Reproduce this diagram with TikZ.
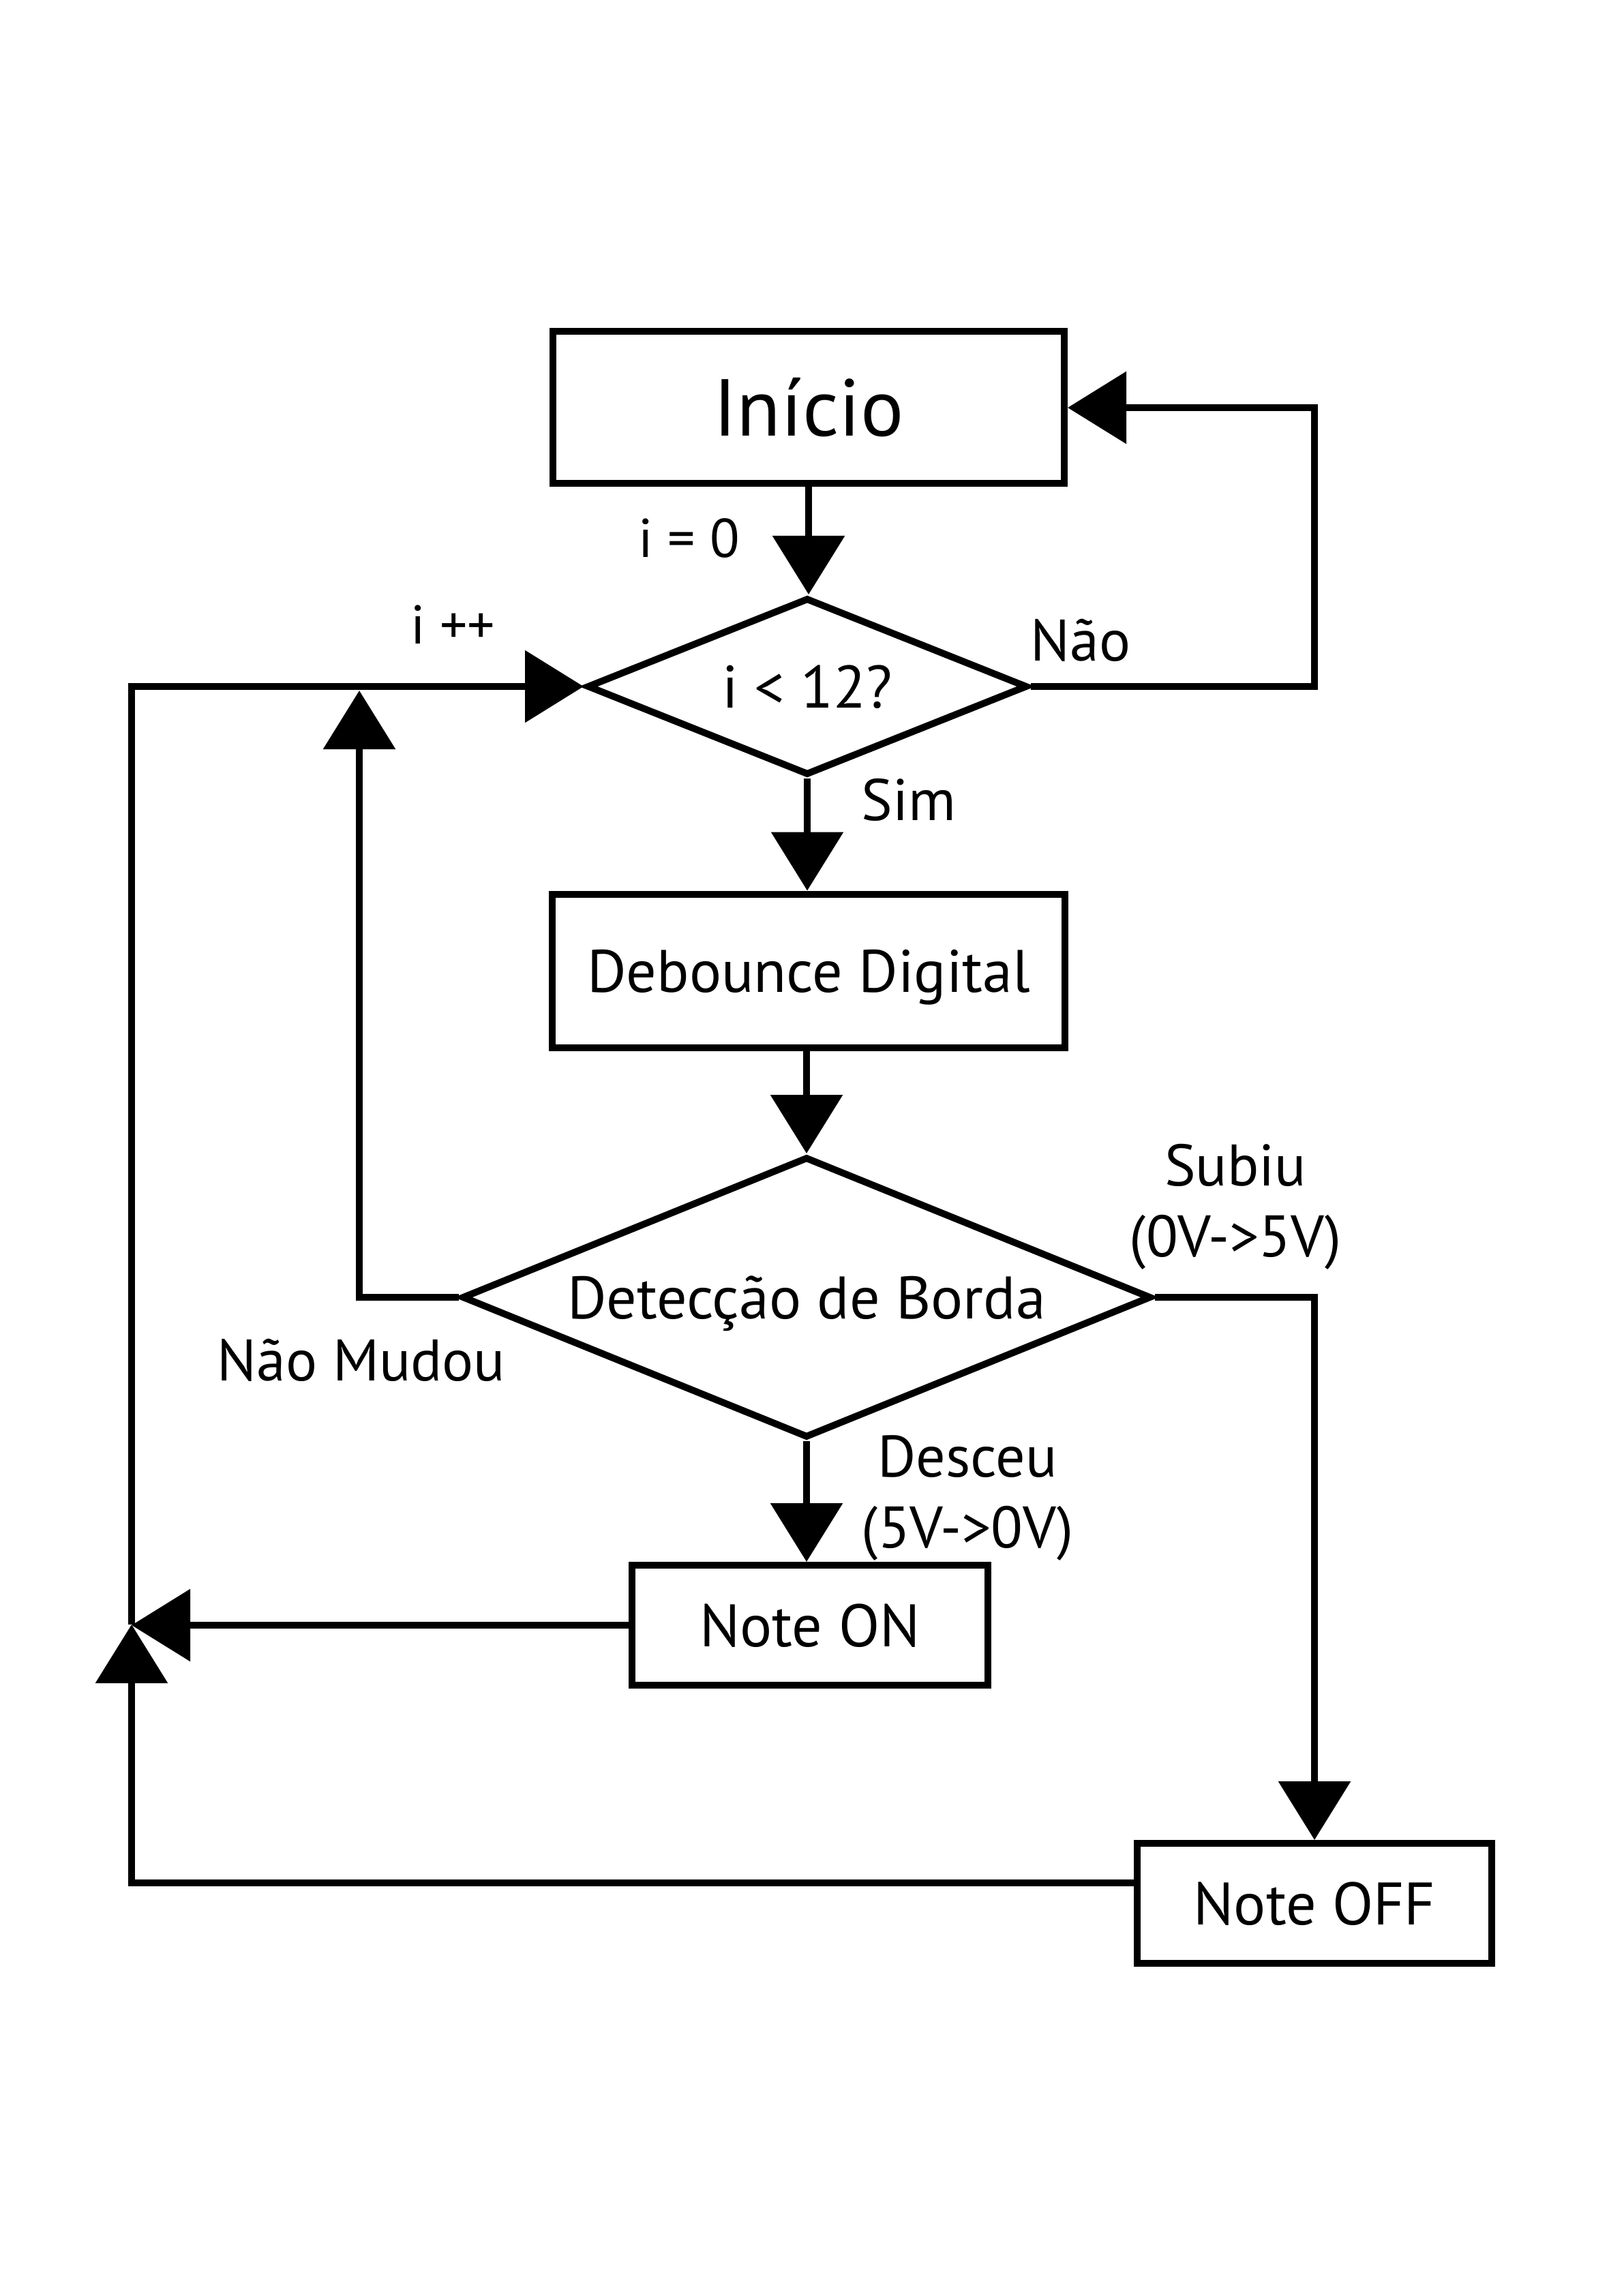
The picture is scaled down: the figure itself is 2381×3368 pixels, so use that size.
\documentclass[tikz,border=0pt]{standalone}
\usepackage{fontspec}
\setmainfont{PT Sans}
\usetikzlibrary{arrows.meta,shapes.geometric}
\begin{document}
\begin{tikzpicture}[x=0.25pt,y=-0.25pt,
  every node/.style={font=\fontsize{22}{26}\selectfont},
  arr/.style={line width=2.5pt,-{Triangle[length=21.5pt,width=26pt]}},
  box/.style={draw,line width=2.5pt,rectangle,inner sep=0pt,text height=15.5pt,text depth=0pt},
  dec/.style={draw,line width=2.5pt,diamond,inner sep=0pt,text height=15.5pt,text depth=0pt},
  lbl/.style={inner sep=0pt,anchor=base,align=center,font=\fontsize{21.5}{26}\selectfont},
  small/.style={font=\fontsize{20}{24}\selectfont}
]
\useasboundingbox (0,0) rectangle (2381,3368);
% nodes
\node[box,minimum width=187.5pt,minimum height=55.75pt,text height=20.7pt,font=\fontsize{29.6}{34}\selectfont] (inicio) at (1186,598) {Início};
\node[dec,aspect=2.5,minimum width=161.5pt,minimum height=65pt] (d1) at (1184,1007) {i < 12?};
\node[box,minimum width=188pt,minimum height=56.25pt] (deb) at (1186,1424) {Debounce Digital};
\node[dec,aspect=2.45,minimum width=252.75pt,minimum height=103pt] (d2) at (1183,1903) {Detecção de Borda};
\node[box,minimum width=130.5pt,minimum height=44pt] (non) at (1188,2384) {Note ON};
\node[box,minimum width=130pt,minimum height=44pt] (noff) at (1928,2792) {Note OFF};
% helper coordinates
\coordinate (rloop) at (1928,598);
\coordinate (nm) at (527,1013);
\coordinate (j) at (193,2383);
% connectors
\draw[arr] (inicio.south) -- (inicio.south |- d1.north);
\draw[arr] (d1.east) -| (rloop) -- (inicio.east);
\draw[arr] (d1.south) -- (d1.south |- deb.north);
\draw[arr] (deb.south -| d2.north) -- (d2.north);
\draw[arr] (d2.east) -| (noff.north);
\draw[arr] (d2.west) -| (nm);
\draw[arr] (d2.south) -- (d2.south |- non.north);
\draw[arr] (non.west) -- (non.west -| j);
\draw[arr] ([yshift=7.5pt]noff.west) -| (j);
\draw[arr] (j) |- (d1.west);
% labels
\node[lbl,small] (l0) at (1011,817) {i = 0};
\node[lbl] (lnao) at (1585,969) {Não};
\node[lbl,small] (lpp) at (664,945) {i ++};
\node[lbl] (lsim) at (1333,1203) {Sim};
\node[lbl] (lsub) at (1812,1843) {Subiu\\(0V->5V)};
\node[lbl] (lnm) at (530,2025) {Não Mudou};
\node[lbl] (ldes) at (1419,2270) {Desceu\\(5V->0V)};
\end{tikzpicture}
\end{document}
